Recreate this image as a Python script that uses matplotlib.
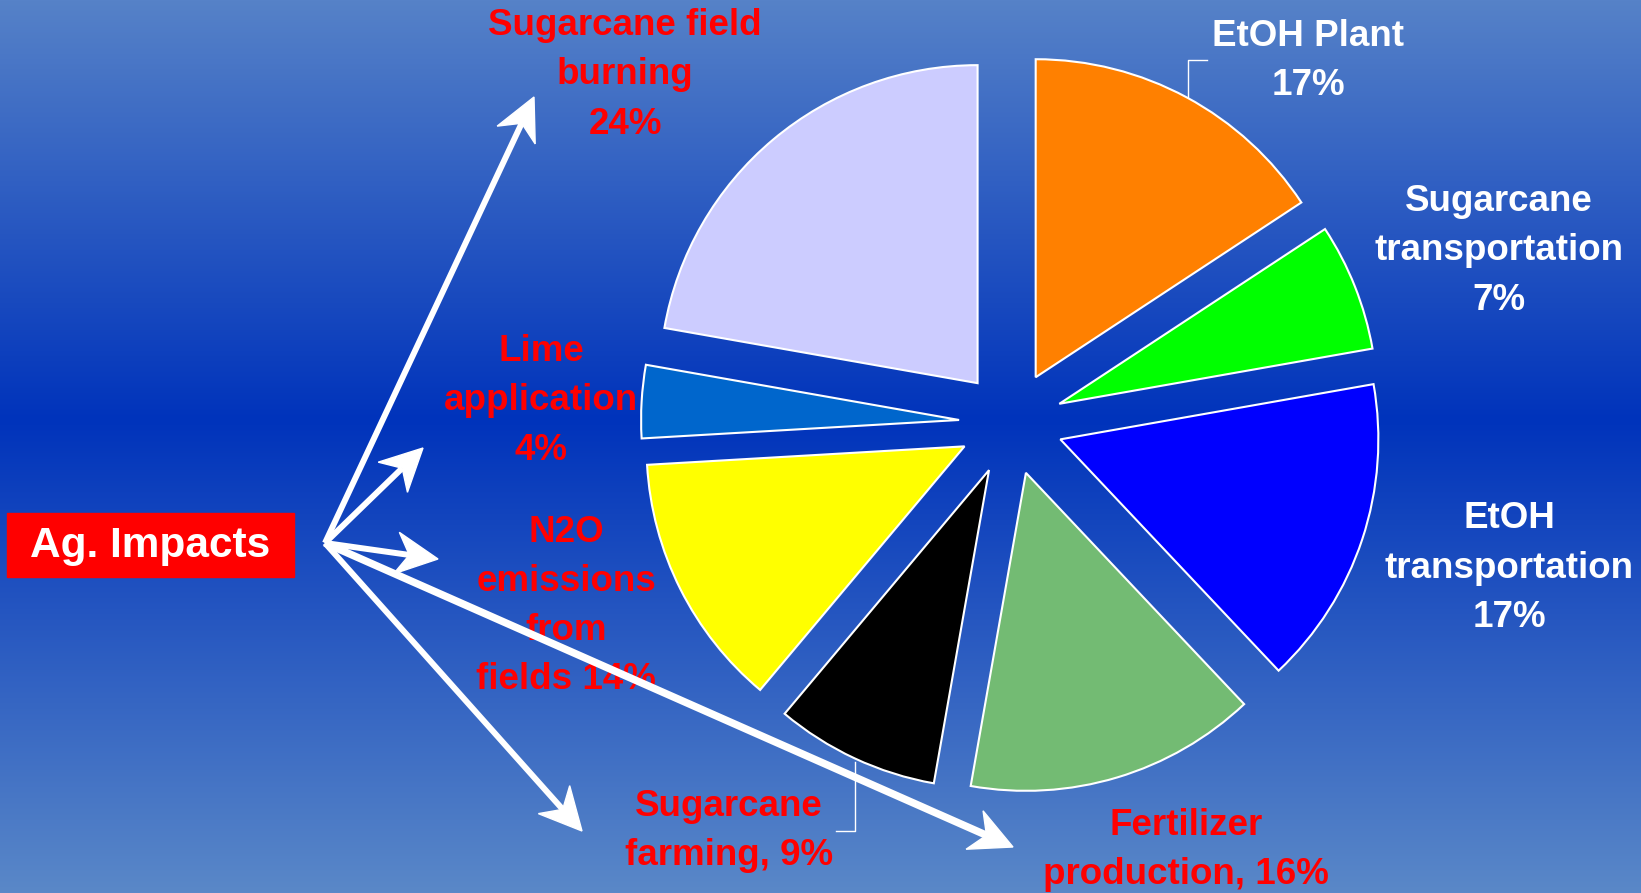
import numpy as np
import matplotlib
matplotlib.use("Agg")
import matplotlib.pyplot as plt
from matplotlib.patches import Rectangle, Polygon

# pie data, clockwise from 12 o'clock
labels = ["EtOH Plant\n", "Sugarcane\ntransportation\n", "EtOH\ntransportation\n",
          "Fertilizer\nproduction, ", "Sugarcane\nfarming, ", "N2O\nemissions\nfrom\nfields ",
          "Lime\napplication\n", "Sugarcane field\nburning\n"]
values = [17, 7, 17, 16, 9, 14, 4, 24]
is_ag = [False, False, False, True, True, True, True, True]
colors = ["#FF8000", "#00FF00", "#0000FF", "#73BB73", "#000000", "#FFFF00", "#0066CC", "#CCCCFF"]

# label positions (pixel space, y up)
label_pos = [(1308, 832), (1499, 642), (1509, 325), (1186, 43),
             (729, 62), (566, 287), (541, 492), (625, 818)]

W, H = 1641, 893
fig = plt.figure(figsize=(W / 100, H / 100), dpi=100)
ax = fig.add_axes([0, 0, 1, 1])

# background gradient
ys = np.linspace(0, 1, H)
stops = [0.0, 0.47, 1.0]
cols = np.array([[86, 130, 200], [0, 51, 187], [90, 136, 200]]) / 255
grad = np.stack([np.interp(ys, stops, cols[:, k]) for k in range(3)], axis=1)
img = np.repeat(grad[:, None, :], 10, axis=1)
ax.imshow(img, extent=[0, W, 0, H], aspect="auto", zorder=0)

cx, cy, r = 1011, 470, 318
ax.pie(values, colors=colors, startangle=90, counterclock=False,
       center=(cx, cy), radius=r, explode=[52] * len(values),
       wedgeprops=dict(edgecolor="white", linewidth=1.5, zorder=2))

ax.set_xlim(0, W)
ax.set_ylim(0, H)
ax.set_aspect("equal")
ax.axis("off")

font = "Liberation Sans"
for lab, v, ag, (x, y) in zip(labels, values, is_ag, label_pos):
    ax.text(x, y, f"{lab}{v}%", color="#FF0000" if ag else "white",
            fontsize=26.5, fontweight="bold", family=font, ha="center", va="center",
            multialignment="center", linespacing=1.52, zorder=3)

# leader lines
ax.plot([1207, 1188, 1188], [833, 833, 796], color="white", lw=1, zorder=3)
ax.plot([836, 855, 855], [62, 62, 131], color="white", lw=1, zorder=3)

# Ag. Impacts box
ax.add_patch(Rectangle((7, 316), 287, 64, color="#FF0000", zorder=4))
ax.text(150, 347, "Ag. Impacts", color="white", fontsize=30.5, fontweight="bold",
        family=font, ha="center", va="center", zorder=5)

# arrows from the box
origin = np.array([325, 350])
tips = [(534, 796), (423, 445), (438, 334), (1013, 46), (582, 62)]
widths = [4.3, 4.3, 4.3, 5.4, 4.3]
for (tx, ty), lw in zip(tips, widths):
    tip = np.array([tx, ty], float)
    d = tip - origin
    d /= np.linalg.norm(d)
    n = np.array([-d[1], d[0]])
    back = tip - 42 * d
    notch = tip - 29 * d
    head = [tip, back + 21 * n, notch, back - 21 * n]
    ax.plot([origin[0], notch[0]], [origin[1], notch[1]], color="white", lw=lw,
            solid_capstyle="butt", zorder=6)
    ax.add_patch(Polygon(head, closed=True, color="white", zorder=6))

fig.savefig("out.png", dpi=100)
